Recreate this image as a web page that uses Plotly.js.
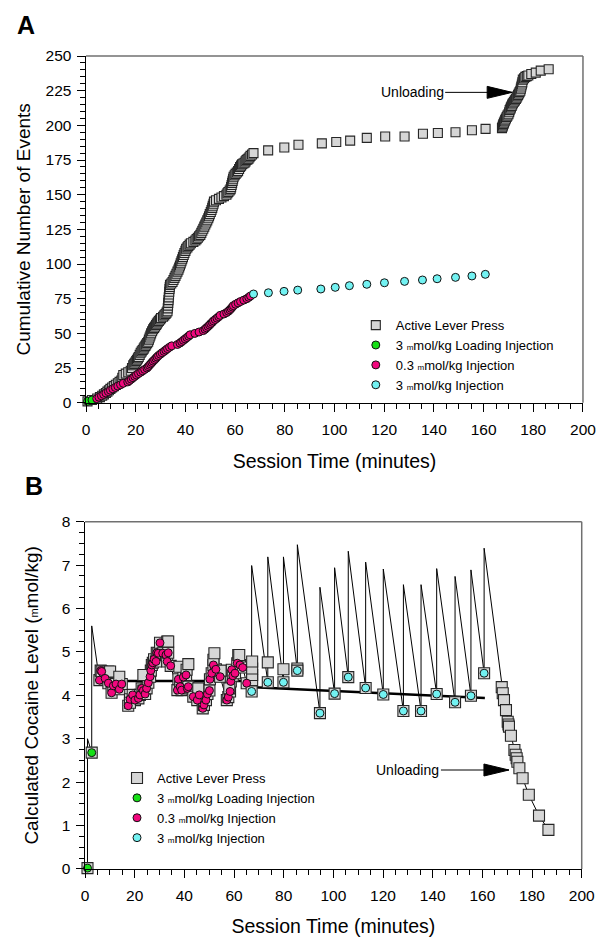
<!DOCTYPE html>
<html>
<head>
<meta charset="utf-8">
<script src="https://cdn.plot.ly/plotly-3.0.1.min.js"></script>
<style>html,body{margin:0;padding:0;background:#fff;}#chart{width:597px;height:937px;}</style>
</head>
<body>
<div id="chart"></div>
<script>
// ---------- Panel A: cumulative events ----------
const pressA_t = [0.6,2.4,4.5,5.6,6.5,7.2,8,8.6,9.2,9.8,10.5,11.2,12,12.8,13.5,14.2,14.6,15,16,17,18,18.5,19,19.4,19.8,20.2,20.5,20.9,21.2,21.6,22,22.4,22.8,23.2,23.5,23.9,24.2,24.6,25,25.3,25.6,25.9,26.2,26.6,27,27.4,27.8,28.2,28.5,28.9,29.3,29.8,30.2,31,31.5,32,32.4,32.8,32.9,33,33.1,33.2,33.3,33.4,33.5,33.6,33.7,33.8,34.3,34.8,35.2,35.6,36,36.4,36.8,37.2,37.5,37.8,38.1,38.4,38.7,39,39.3,39.6,40,40.3,40.8,41.2,41.7,42.2,43.2,44,44.5,45,45.5,46,46.4,46.8,47.2,47.6,48,48.4,48.8,49.2,49.5,49.8,50.2,50.5,50.8,51,51.3,51.5,52.3,53.5,54.5,55.5,56.5,56.9,57.3,57.8,58.2,58.4,58.6,58.8,59,59.2,59.4,59.8,60.2,60.7,61.2,61.6,62,62.4,62.8,63.3,63.8,64.2,64.6,65,65.4,65.8,66.2,66.8,67.4,
  73.3,79.8,85.5,94.9,100.7,106.3,113,120.4,128.2,135.6,141.6,148.7,155.3,160.8,
  167.4,167.6,167.8,168,168.2,168.5,168.7,169,169.3,169.6,170,170.3,170.5,170.8,171,171.3,171.5,171.8,172.2,172.6,173,173.3,173.6,173.9,174.2,174.5,174.8,175,175.2,175.4,175.6,175.8,176.3,176.8,177.4,178,179.2,181,183,186.2];
const pressA_n = [1,2,3,4,5,6,7,8,9,10,11,12,13,14,15,16,18,20,21,22,23,25,27,28,29,30,31,32,33,34.5,36,37,38,39,40,41,42,43,44,45.5,47,48.5,50,51.5,53,54,55,56,57,58,59,60,61,62,63,64,65,66,68,70,72,74,76,78,80,82,83.5,85,86,87,88.5,90,91.5,93,94.5,96,97.5,99,100.5,102,103.5,105,106.5,108,109.5,111,112,113,114,115,116,117,118,119,120,121,122.5,124,125.5,127,128.5,130,131.5,133,134.5,136,137.5,139,140.5,142,143.5,145,146,147,148,149,150,151,152,153,154,155.5,157,158.5,160,161.5,163,164,165,166,167,168.5,170,171,172,172.5,173,174,175,175.5,176,177,178,179,180,
  182,184,186,187,188,189,191,192,192,194,194.5,195,196.5,197.5,
  198,199,200,201,202,203,204,205,206,207,208,209.5,211,212,213,214,215,216,217,218,219,220,221,222,223,224,225,226.5,228,229.5,231,233,234,235,235.5,236,237,238,239.5,240.5];
const loadA_t = [0.6,2.4];
const loadA_n = [1,2];
const lowA_t = [4.3,5.2,6.2,7.1,8,9,9.8,10.8,11.8,12.8,13.9,15,16.8,17.5,18.2,18.9,19.6,20.3,21.1,22,22.8,23.6,24.5,25,25.5,26,26.5,27,27.6,28.1,28.6,29.2,29.9,30.6,31.4,32.1,32.8,33.6,34.5,36.8,37.8,38.5,39.2,39.9,40.6,41.3,41.9,43.8,45.5,47.2,47.9,48.5,49.1,49.7,50.2,50.8,51.3,52,52.7,53.4,54,55.5,56.6,57.3,57.9,58.4,58.9,59.3,60.2,61.2,62.2,63.5,64.7,65.5,66.2];
const lowA_n = [3,4,5,6,7,8,9,10,11,12,13,14,15,16,17,18,19,20,21,22,23,24,25,26,27,28,29,30,31,32,33,34,35,36,37,38,39,40,41,42,43,44,45,46,47,48,49,50,51,52,53,54,55,56,57,58,59,60,61,62,63,64,65,66,67,68,69,70,71,72,73,74,75,76,77];
const highA_t = [67.4,73.4,79.7,85.2,94.5,100.3,106,113,120.1,128.2,135.4,141.3,148.7,155.3,160.7];
const highA_n = [78.4,79.3,80.3,81.2,82,83.2,84.4,85.4,86.5,87.5,88.5,89.4,90.4,91.4,92.6];

// ---------- Panel B: calculated cocaine level ----------
const loadB_t = [1.0,2.7];
const loadB_v = [0.02,2.68];
const loadB_peak = [3.0,5.6];
const lowB_t = [5.8,6.3,6.7,8.1,9.4,10.7,11.4,12.5,13.8,14.8,17.4,18.1,19.2,20.1,21.5,22.1,22.8,23.5,24.2,24.8,25.5,26.2,26.5,26.9,27.3,27.8,28.6,28.9,29.5,30.2,31.3,32.6,33.1,33.5,34.5,37.2,37.6,38.3,38.9,39.6,40.7,41.2,41.6,43.6,45.2,46.0,47.4,47.9,48.7,49.3,50.1,50.3,51.0,51.7,52.7,54.4,57.1,57.7,58.4,58.7,59.1,59.5,60.4,61.3,62.4,63.5,65.1];
const lowB_v = [4.35,4.57,4.55,4.39,4.28,4.06,4.22,4.26,4.14,4.26,3.76,3.91,4.01,3.89,3.93,4.01,4.16,4.11,4.03,4.16,4.29,4.43,4.57,4.70,4.75,4.83,4.78,4.98,4.97,5.21,4.97,4.93,4.78,4.98,4.68,4.12,4.37,4.20,4.12,4.42,4.47,4.16,4.20,3.97,3.89,4.01,3.70,3.78,3.89,4.03,4.11,4.37,4.51,4.70,4.60,4.43,3.89,3.96,4.09,4.32,4.59,4.45,4.51,4.74,4.70,4.64,4.28];
const highB_t = [67.1,73.6,79.9,85.5,94.6,100.5,106,113,120.1,128.2,135.3,141.6,149,155.4,160.7];
const highB_v = [4.09,4.30,4.30,4.57,3.59,4.04,4.42,4.17,4.02,3.64,3.64,4.03,3.84,3.99,4.51];
const highB_peak = [6.99,7.19,7.19,7.47,6.49,6.94,7.32,7.07,6.91,6.55,6.55,6.92,6.74,6.89,7.39];
const extraPressB_t = [9.4,10.1,13.8,18.1,23.5,33.1,33.5,38,40.9,41.6,45.6,51.7,52.1,54.6,58.1,61.7,62.1,67.3,67.3,67.3,67.3,73.6,79.9,85.5];
const extraPressB_v = [4.55,4.55,4.43,3.83,4.47,5.24,5.24,4.66,4.59,4.72,4.16,4.82,4.97,4.57,4.16,4.93,4.93,4.35,4.47,4.62,4.78,4.76,4.60,4.62];
const unloadB_t = [167.8,168.2,168.7,169.5,170.2,170.5,170.7,171.5,172.9,173.4,173.8,174.1,174.9,176.2,178.7,182.8,186.6];
const unloadB_v = [4.19,4.05,3.89,3.66,3.39,3.33,3.28,3.07,2.74,2.63,2.55,2.47,2.32,2.09,1.71,1.23,0.90];
const trendB_t = [4.7,66.4,null,67.1,161];
const trendB_v = [4.33,4.33,null,4.19,3.94];

// ---------- build ----------
const FONT = 'Liberation Sans, Arial, Helvetica, sans-serif';
const mu = s => '<span style="font-size:' + s + 'px">m</span>';
const names = ['Active Lever Press', '3 ' + mu(8) + 'mol/kg Loading Injection', '0.3 ' + mu(8) + 'mol/kg Injection', '3 ' + mu(8) + 'mol/kg Injection'];
const GREY = '#d6d6d6', PINK = '#f2077e', GREEN = '#16e016', CYAN = '#72f2f2';

// model line for panel B, built from the read levels
const lineT = [], lineV = [];
loadB_t.forEach((t, i) => { lineT.push(t, t); lineV.push(loadB_v[i], loadB_peak[i]); });
lowB_t.forEach((t, i) => { lineT.push(t); lineV.push(lowB_v[i]); });
highB_t.forEach((t, i) => { lineT.push(t, t); lineV.push(highB_v[i], highB_peak[i]); });
unloadB_t.forEach((t, i) => { lineT.push(t); lineV.push(unloadB_v[i]); });

const pressB_t = [].concat(loadB_t, lowB_t, extraPressB_t, highB_t, unloadB_t);
const pressB_v = [].concat(loadB_v, lowB_v, extraPressB_v, highB_v, unloadB_v);

const sq = (size) => ({symbol: 'square', size: size, color: GREY, line: {color: '#262626', width: 1.1}});
const ci = (c, size) => ({symbol: 'circle', size: size, color: c, line: {color: '#111', width: 1}});

const traces = [
  {x: pressA_t, y: pressA_n, xaxis: 'x', yaxis: 'y', mode: 'markers', marker: sq(9), name: names[0], legend: 'legend', cliponaxis: false},
  {x: loadA_t, y: loadA_n, xaxis: 'x', yaxis: 'y', mode: 'markers', marker: ci(GREEN, 8), name: names[1], legend: 'legend', cliponaxis: false},
  {x: lowA_t, y: lowA_n, xaxis: 'x', yaxis: 'y', mode: 'markers', marker: ci(PINK, 8), name: names[2], legend: 'legend', cliponaxis: false},
  {x: highA_t, y: highA_n, xaxis: 'x', yaxis: 'y', mode: 'markers', marker: ci(CYAN, 8), name: names[3], legend: 'legend', cliponaxis: false},

  {x: lineT, y: lineV, xaxis: 'x2', yaxis: 'y2', mode: 'lines', line: {color: '#000', width: 1}, showlegend: false, hoverinfo: 'skip'},
  {x: trendB_t, y: trendB_v, xaxis: 'x2', yaxis: 'y2', mode: 'lines', line: {color: '#000', width: 2.5}, showlegend: false, connectgaps: false},
  {x: pressB_t, y: pressB_v, xaxis: 'x2', yaxis: 'y2', mode: 'markers', marker: sq(11), name: names[0], legend: 'legend2', cliponaxis: false},
  {x: loadB_t, y: loadB_v, xaxis: 'x2', yaxis: 'y2', mode: 'markers', marker: ci(GREEN, 8), name: names[1], legend: 'legend2', cliponaxis: false},
  {x: lowB_t, y: lowB_v, xaxis: 'x2', yaxis: 'y2', mode: 'markers', marker: ci(PINK, 8), name: names[2], legend: 'legend2', cliponaxis: false},
  {x: highB_t, y: highB_v, xaxis: 'x2', yaxis: 'y2', mode: 'markers', marker: ci(CYAN, 8), name: names[3], legend: 'legend2', cliponaxis: false}
];

const xTicks = {range: [0, 200], tick0: 0, dtick: 20, ticks: 'outside', ticklen: 8, tickwidth: 1, tickcolor: '#000',
  minor: {dtick: 5, ticks: 'outside', ticklen: 5, tickwidth: 1, tickcolor: '#000'},
  showline: true, linecolor: '#000', linewidth: 1.5, showgrid: false, zeroline: false,
  ticklabelstandoff: 4,
  tickfont: {size: 15.5, color: '#000'}, fixedrange: true};

const legendBase = {xanchor: 'left', yanchor: 'top', bgcolor: 'rgba(0,0,0,0)', font: {size: 13, color: '#000'}, traceorder: 'normal', tracegroupgap: 0};

const boxLine = (xr, yr, x0, y0, x1, y1) => ({type: 'line', xref: xr, yref: yr, x0: x0, y0: y0, x1: x1, y1: y1, line: {color: '#707070', width: 1.5}});
const arrowHead = (xr, yr, x, y) => ({type: 'path', xref: xr, yref: yr, xsizemode: 'pixel', ysizemode: 'pixel', xanchor: x, yanchor: y,
  path: 'M-25,-6L0,0L-25,6Z', fillcolor: '#000', line: {color: '#000', width: 1}});

const layout = {
  width: 597, height: 937, margin: {l: 0, r: 0, t: 0, b: 0},
  paper_bgcolor: '#fff', plot_bgcolor: '#fff',
  font: {family: FONT, color: '#000'},
  showlegend: true,
  xaxis: Object.assign({}, xTicks, {domain: [0.1441, 0.9765], anchor: 'y', title: {text: 'Session Time (minutes)', font: {size: 19.5}, standoff: 17}}),
  yaxis: {domain: [0.5702, 0.9402], anchor: 'x', range: [0, 250], tick0: 0, dtick: 25, ticks: 'outside', ticklen: 8, tickwidth: 1, tickcolor: '#000',
    minor: {dtick: 5, ticks: 'outside', ticklen: 5, tickwidth: 1, tickcolor: '#000'},
    showline: true, linecolor: '#000', linewidth: 1.5, showgrid: false, zeroline: false,
    tickfont: {size: 15.5}, ticklabelstandoff: 2, fixedrange: true, title: {text: 'Cumulative Number of Events', font: {size: 19}, standoff: 10}},
  xaxis2: Object.assign({}, xTicks, {domain: [0.1424, 0.9744], anchor: 'y2', title: {text: 'Session Time (minutes)', font: {size: 19.5}, standoff: 19}}),
  yaxis2: {domain: [0.0726, 0.4432], anchor: 'x2', range: [0, 8], tick0: 0, dtick: 1, ticks: 'outside', ticklen: 8, tickwidth: 1, tickcolor: '#000',
    minor: {dtick: 0.25, ticks: 'outside', ticklen: 5, tickwidth: 1, tickcolor: '#000'},
    showline: true, linecolor: '#000', linewidth: 1.5, showgrid: false, zeroline: false,
    tickfont: {size: 15.5}, ticklabelstandoff: 2, fixedrange: true, title: {text: 'Calculated Cocaine Level (' + mu(11) + 'mol/kg)', font: {size: 19}, standoff: 18}},
  legend: Object.assign({}, legendBase, {x: 0.596, y: 0.669}),
  legend2: Object.assign({}, legendBase, {x: 0.196, y: 0.1857}),
  shapes: [
    boxLine('x domain', 'y domain', 0, 1, 1, 1), boxLine('x domain', 'y domain', 1, 0, 1, 1),
    boxLine('x2 domain', 'y2 domain', 0, 1, 1, 1), boxLine('x2 domain', 'y2 domain', 1, 0, 1, 1),
    arrowHead('x', 'y', 171.5, 223.8),
    arrowHead('x2', 'y2', 170.7, 2.28)
  ],
  annotations: [
    {text: '<b>A</b>', xref: 'paper', yref: 'paper', x: 26 / 597, y: 1 - 25.5 / 937, xanchor: 'center', yanchor: 'middle', showarrow: false, font: {size: 25}},
    {text: '<b>B</b>', xref: 'paper', yref: 'paper', x: 34 / 597, y: 1 - 486 / 937, xanchor: 'center', yanchor: 'middle', showarrow: false, font: {size: 25}},
    {text: 'Unloading', xref: 'x', yref: 'y', x: 171.5, y: 223.8, ax: -100, ay: 0, showarrow: true, arrowhead: 0, arrowwidth: 1, arrowcolor: '#000', font: {size: 14}},
    {text: 'Unloading', xref: 'x2', yref: 'y2', x: 170.7, y: 2.28, ax: -101, ay: 0, showarrow: true, arrowhead: 0, arrowwidth: 1, arrowcolor: '#000', font: {size: 14}}
  ]
};

Plotly.newPlot('chart', traces, layout, {displayModeBar: false, staticPlot: true});
</script>
</body>
</html>
